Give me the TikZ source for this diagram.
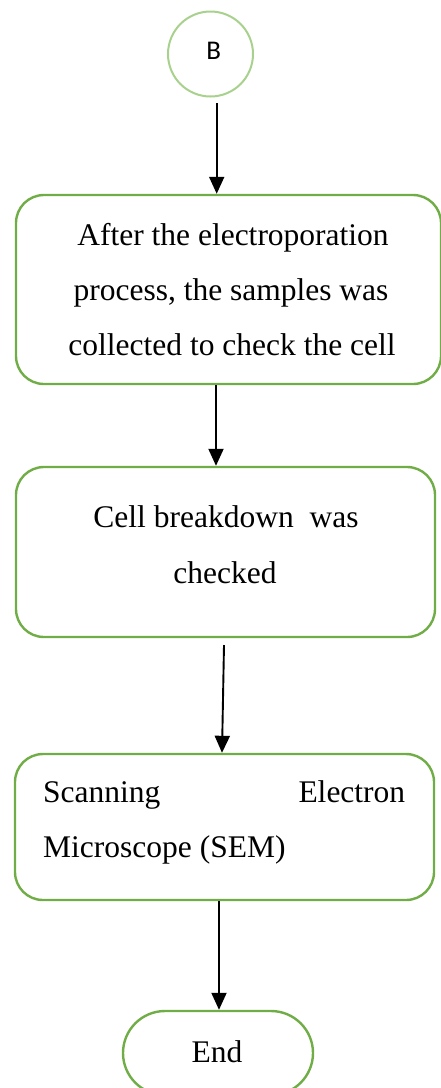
\documentclass[tikz,border=0pt]{standalone}
\usepackage{fontspec}
\setmainfont{Liberation Serif}
\newfontfamily\labelfont{Carlito}
\usetikzlibrary{arrows.meta}
\definecolor{boxgreen}{HTML}{70AD47}
\definecolor{lightgreen}{HTML}{A9D18E}
\begin{document}
\begin{tikzpicture}[x=1pt,y=-1pt,
  stepbox/.style={draw=boxgreen,line width=2.4pt,rounded corners=28pt,inner sep=0pt},
  endbox/.style={draw=boxgreen,line width=2.4pt,rounded corners=42pt,inner sep=0pt,
    minimum width=190pt,minimum height=84pt},
  startcircle/.style={circle,draw=lightgreen,line width=2pt,minimum size=85pt,inner sep=0pt},
  txt/.style={anchor=base,inner sep=0pt,font=\fontsize{31.5}{55}\selectfont},
  arr/.style={line width=1.9pt,-{Triangle[length=17pt,width=15pt]}}]
\useasboundingbox (0,0) rectangle (440,1088);

% start connector
\node[startcircle] (B) at (210.5,54) {};
\node[anchor=base,inner sep=0pt,font=\labelfont\fontsize{27}{30}\selectfont] (Blbl) at (213.7,59.5) {B};

% process boxes
\node[stepbox,minimum width=425pt,minimum height=189pt] (b1) at (228.5,289.5) {};
\node[txt] (t1a) at (233,245) {After the electroporation};
\node[txt] (t1b) at (231,300) {process, the samples was};
\node[txt] (t1c) at (232,355) {collected to check the cell};

\node[stepbox,minimum width=419pt,minimum height=170pt] (b2) at (225.5,552) {};
\node[txt] (t2a) at (226,527) {Cell breakdown\ \ was};
\node[txt] (t2b) at (225,583) {checked};

\node[stepbox,minimum width=419pt,minimum height=146pt] (b3) at (224.5,827) {};
\node[txt,anchor=base west] (t3a) at (43,802) {\makebox[362pt]{Scanning\hfill Electron}};
\node[txt,anchor=base west] (t3b) at (43,857) {Microscope (SEM)};

% terminator
\node[endbox] (e) at (218,1053) {};
\node[txt] (te) at (217,1062) {End};

% connectors
\coordinate (a1s) at (216.7,103);
\coordinate (a3s) at (224,645);
\draw[arr] (a1s) -- (a1s |- b1.north);
\draw[arr] (216,0 |- b1.south) -- (216,0 |- b2.north);
\draw[arr] (a3s) -- (222,0 |- b3.north);
\draw[arr] (219,0 |- b3.south) -- (219,0 |- e.north);
\end{tikzpicture}
\end{document}
